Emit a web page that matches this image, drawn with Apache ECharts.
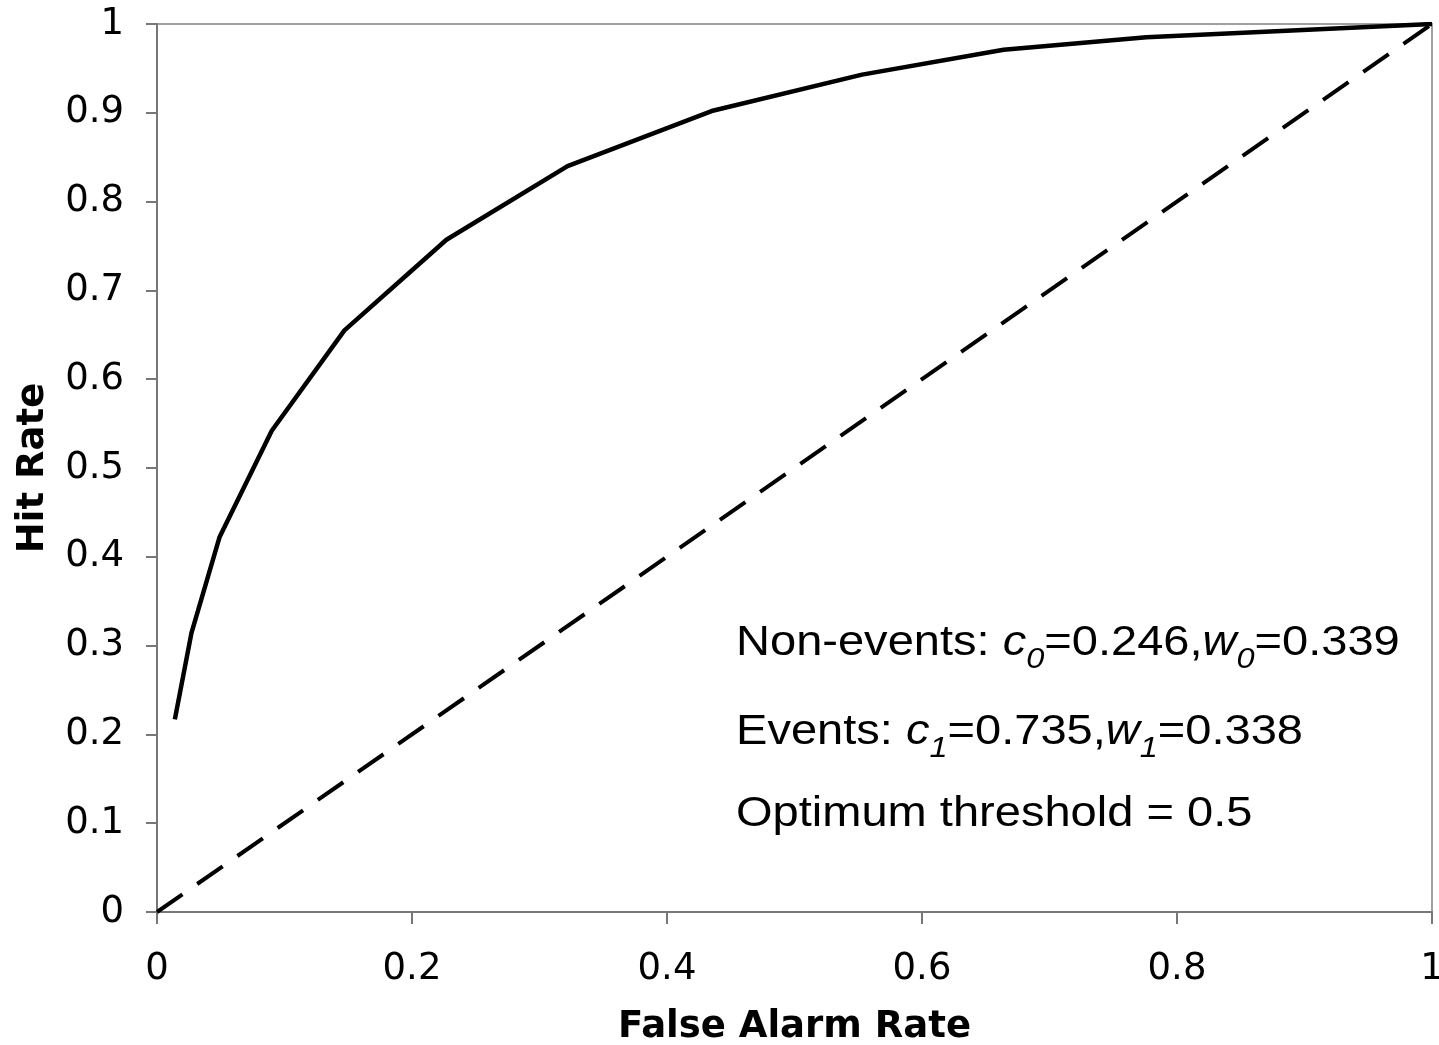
<!DOCTYPE html>
<html>
<head>
<meta charset="utf-8">
<script src="https://cdn.jsdelivr.net/npm/echarts@6/dist/echarts.min.js"></script>
<style>
  html, body { margin: 0; padding: 0; background: #fff; }
  #chart { width: 1439px; height: 1045px; }
</style>
</head>
<body>
<div id="chart"></div>
<script>
// ROC curve
var falseAlarm = [0.014, 0.027, 0.049, 0.090, 0.147, 0.227, 0.322, 0.435, 0.553, 0.664, 0.776, 1.0];
var hitRate    = [0.217, 0.314, 0.422, 0.542, 0.655, 0.757, 0.840, 0.902, 0.943, 0.971, 0.985, 1.0];
var diagX = [0, 1];
var diagY = [0, 1];
var xTicks = [0, 0.2, 0.4, 0.6, 0.8, 1];
var yTicks = [0, 0.1, 0.2, 0.3, 0.4, 0.5, 0.6, 0.7, 0.8, 0.9, 1];

function pairs(xs, ys) {
  var out = [];
  for (var i = 0; i < xs.length; i++) out.push([xs[i], ys[i]]);
  return out;
}

var axisFont = 'Verdana, "DejaVu Sans", sans-serif';
var noteFont = 'Arial, "Liberation Sans", sans-serif';

var subStyle = {
  fontFamily: noteFont, fontSize: 29, fontStyle: 'italic', color: '#000',
  verticalAlign: 'bottom', lineHeight: 28
};
var itStyle = { fontFamily: noteFont, fontSize: 42, fontStyle: 'italic', color: '#000', lineHeight: 62 };
var rmStyle = { fontFamily: noteFont, fontSize: 42, color: '#000', lineHeight: 62 };

function note(text, top) {
  return {
    type: 'text', left: 736, top: top, scaleX: 1.12,
    style: {
      text: text, fontFamily: noteFont, fontSize: 42, lineHeight: 62, fill: '#000',
      rich: { i: itStyle, s: subStyle, r: rmStyle }
    }
  };
}

var myChart = echarts.init(document.getElementById('chart'));
var option = {
  animation: false,
  grid: {
    left: 157, right: 7, top: 24, bottom: 133,
    containLabel: false, outerBoundsMode: 'none',
    show: true, borderColor: '#a0a0a0', borderWidth: 2
  },
  xAxis: {
    type: 'value', min: 0, max: 1, interval: 0.2,
    name: 'False Alarm Rate', nameLocation: 'middle', nameGap: 97,
    nameTextStyle: { fontFamily: axisFont, fontSize: 37, fontWeight: 'bold', color: '#000' },
    axisLine: { show: true, lineStyle: { color: '#777', width: 2 } },
    axisTick: { show: true, length: 12, lineStyle: { color: '#777', width: 2 } },
    splitLine: { show: false },
    axisLabel: {
      fontFamily: axisFont, fontSize: 37, color: '#000', margin: 39,
      formatter: function (v) { return xTicks.indexOf(v) >= 0 ? String(v) : ''; }
    }
  },
  yAxis: {
    type: 'value', min: 0, max: 1, interval: 0.1,
    name: 'Hit Rate', nameLocation: 'middle', nameGap: 105, nameRotate: 90,
    nameTextStyle: { fontFamily: axisFont, fontSize: 37, fontWeight: 'bold', color: '#000' },
    axisLine: { show: true, lineStyle: { color: '#777', width: 2 } },
    axisTick: { show: true, length: 11, lineStyle: { color: '#777', width: 2 } },
    splitLine: { show: false },
    axisLabel: {
      fontFamily: axisFont, fontSize: 37, color: '#000', margin: 33,
      formatter: function (v) {
        var r = Math.round(v * 10) / 10;
        return yTicks.indexOf(r) >= 0 ? String(r) : '';
      }
    }
  },
  series: [
    {
      type: 'line', name: 'ROC', data: pairs(falseAlarm, hitRate),
      showSymbol: false, symbol: 'none',
      lineStyle: { color: '#000', width: 4.5 }
    },
    {
      type: 'line', name: 'No skill', data: pairs(diagX, diagY),
      showSymbol: false, symbol: 'none',
      lineStyle: { color: '#000', width: 4, type: [31, 18] }
    }
  ],
  graphic: [
    note('{r|Non-events: }{i|c}{s|0}{r|=0.246,}{i|w}{s|0}{r|=0.339}', 612),
    note('{r|Events: }{i|c}{s|1}{r|=0.735,}{i|w}{s|1}{r|=0.338}', 701),
    note('{r|Optimum threshold = 0.5}', 783)
  ]
};
myChart.setOption(option);
</script>
</body>
</html>
